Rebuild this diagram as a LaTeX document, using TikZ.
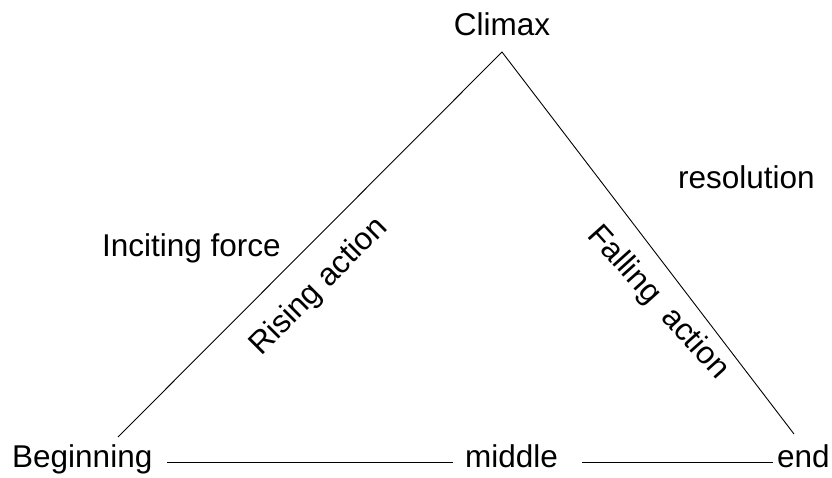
\documentclass[tikz,border=0pt]{standalone}
\usepackage{fontspec}
\setmainfont{Liberation Sans}
\begin{document}
\begin{tikzpicture}[x=1pt,y=-1pt,
  lbl/.style={inner sep=0pt,font=\fontsize{31.5}{36}\selectfont},
  edge/.style={line width=0.9pt,black}]
\useasboundingbox (0,0) rectangle (832,477);
\node[lbl,anchor=base] (climax) at (502,35) {Climax};
\node[lbl,anchor=base west] (beg) at (12,467) {Beginning};
\node[lbl,anchor=base west] (mid) at (465,467) {middle};
\node[lbl,anchor=base west] (end) at (777,467) {end};
\node[lbl,anchor=base west] (incite) at (102,256) {Inciting force};
\node[lbl,anchor=base west] (resol) at (678,188) {resolution};
\node[lbl,rotate=45] (rising) at (319,287) {Rising action};
\node[lbl,rotate=-48] (falling) at (658,303) {Falling\ \ action};
\coordinate (apex) at (502,52);
\coordinate (lft) at (118,437);
\coordinate (rgt) at (794,434);
\coordinate (b1) at (167,462);
\coordinate (b2) at (453,462);
\coordinate (b3) at (582,462);
\coordinate (b4) at (773,462);
\draw[edge] (lft) -- (apex) -- (rgt);
\draw[edge] (b1) -- (b2);
\draw[edge] (b3) -- (b4);
\end{tikzpicture}
\end{document}
